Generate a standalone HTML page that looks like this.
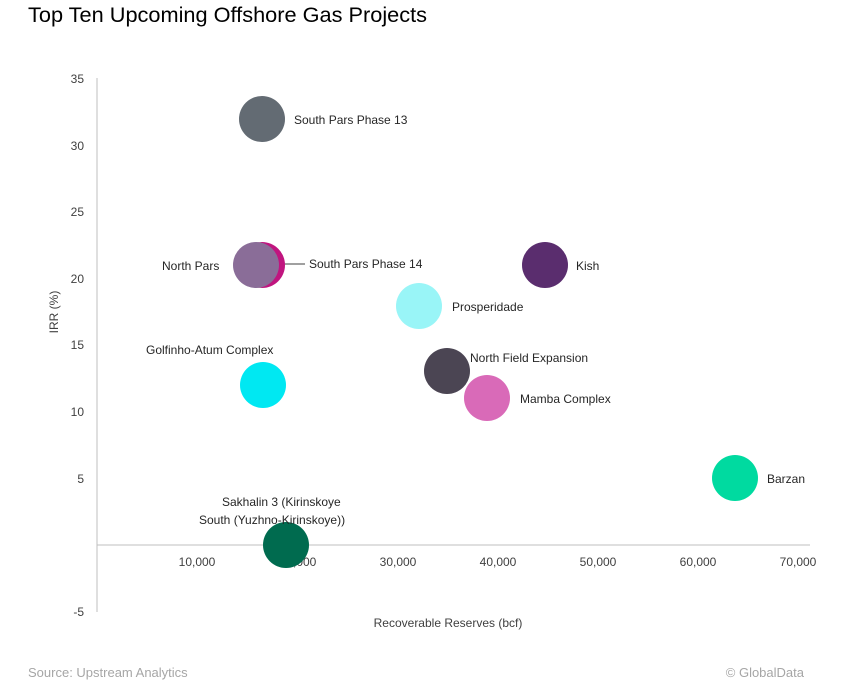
<!DOCTYPE html>
<html><head><style>
body{margin:0;background:#fff;}
svg{display:block;font-family:"Liberation Sans",sans-serif;}
</style></head><body>
<svg width="855" height="683" xmlns="http://www.w3.org/2000/svg">
<rect width="855" height="683" fill="#fff"/>
<text x="28" y="22" font-size="21" fill="#000" textLength="399" lengthAdjust="spacingAndGlyphs">Top Ten Upcoming Offshore Gas Projects</text>
<line x1="97" y1="78" x2="97" y2="612" stroke="#bfbfbf"/>
<line x1="97" y1="545" x2="810" y2="545" stroke="#bfbfbf"/>
<g font-size="12" fill="#404040" text-anchor="end">
<text x="84" y="83">35</text><text x="84" y="150">30</text><text x="84" y="216">25</text>
<text x="84" y="283">20</text><text x="84" y="349">15</text><text x="84" y="416">10</text>
<text x="84" y="483">5</text><text x="84" y="616">-5</text>
</g>
<g font-size="12" fill="#404040" text-anchor="middle">
<text x="197" y="566">10,000</text><text x="298" y="566">20,000</text><text x="398" y="566">30,000</text>
<text x="498" y="566">40,000</text><text x="598" y="566">50,000</text><text x="698" y="566">60,000</text>
<text x="798" y="566">70,000</text>
<text x="448" y="627">Recoverable Reserves (bcf)</text>
</g>
<text transform="translate(58,312) rotate(-90)" font-size="12" fill="#404040" text-anchor="middle">IRR (%)</text>
<circle cx="262" cy="119" r="23" fill="#636b73"/>
<circle cx="262" cy="265" r="23" fill="#c0157f"/>
<circle cx="256" cy="265" r="23" fill="#8a6d98"/>
<circle cx="545" cy="265" r="23" fill="#5a2d6e"/>
<circle cx="419" cy="306" r="23" fill="#99f5f7"/>
<circle cx="263" cy="385" r="23" fill="#00e8f2"/>
<circle cx="447" cy="371" r="23" fill="#4b4553"/>
<circle cx="487" cy="398" r="23" fill="#d96ab8"/>
<circle cx="735" cy="478" r="23" fill="#00daa0"/>
<circle cx="286" cy="545" r="23" fill="#006b4f"/>
<line x1="285" y1="264" x2="305" y2="264" stroke="#404040"/>
<g font-size="12" fill="#262626">
<text x="294" y="124">South Pars Phase 13</text>
<text x="162" y="270">North Pars</text>
<text x="309" y="268">South Pars Phase 14</text>
<text x="576" y="270">Kish</text>
<text x="452" y="311">Prosperidade</text>
<text x="146" y="354">Golfinho-Atum Complex</text>
<text x="470" y="362">North Field Expansion</text>
<text x="520" y="403">Mamba Complex</text>
<text x="767" y="483">Barzan</text>
<text x="222" y="506">Sakhalin 3 (Kirinskoye</text>
<text x="199" y="524">South (Yuzhno-Kirinskoye))</text>
</g>
<text x="28" y="677" font-size="13" fill="#a6a6a6">Source: Upstream Analytics</text>
<text x="804" y="677" font-size="13" fill="#a6a6a6" text-anchor="end">© GlobalData</text>
</svg>
</body></html>
